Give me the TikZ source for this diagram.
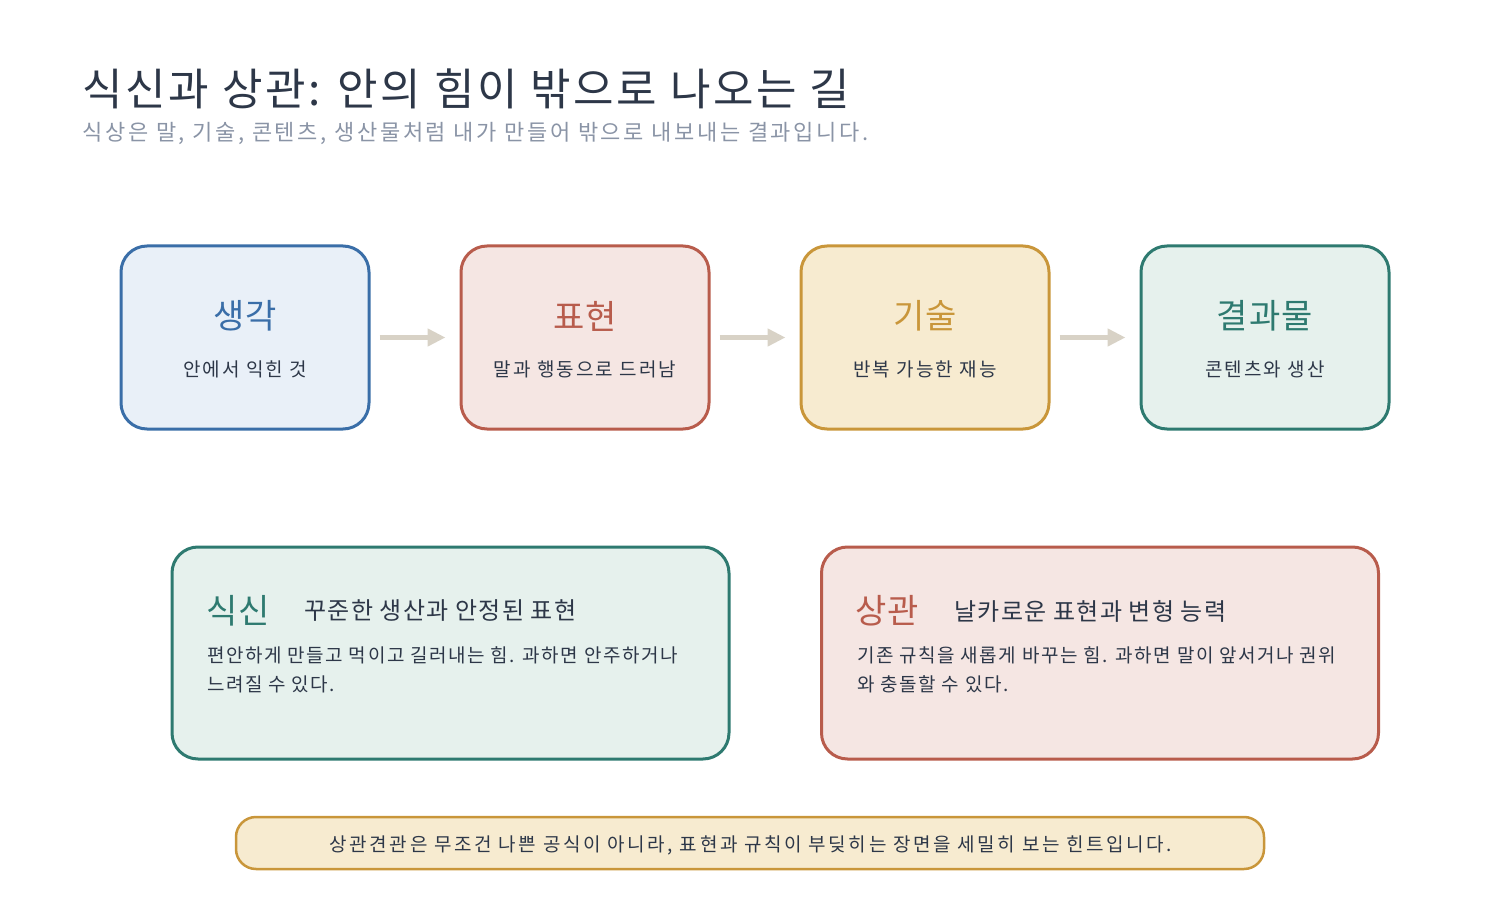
\documentclass[tikz,border=0pt]{standalone}
\usepackage{fontspec}
\setmainfont{Noto Sans CJK KR}
\usetikzlibrary{arrows.meta}
\definecolor{ink}{HTML}{2D3748}
\definecolor{subgray}{HTML}{8A94A6}
\definecolor{cblue}{HTML}{3A6EA8}\definecolor{fblue}{HTML}{E9F0F8}
\definecolor{cred}{HTML}{B85C4C}\definecolor{fred}{HTML}{F5E6E3}
\definecolor{cgold}{HTML}{C9963A}\definecolor{fgold}{HTML}{F7EBD0}
\definecolor{cteal}{HTML}{2E7A70}\definecolor{fteal}{HTML}{E6F1ED}
\definecolor{arrowgray}{HTML}{D8D2C6}
\newcommand{\ls}[1]{\addfontfeatures{LetterSpace=#1}}
\tikzset{
  card/.style={draw=#1, line width=3pt, rounded corners=26pt, minimum width=248pt, minimum height=183pt, inner sep=0pt},
  wide/.style={draw=#1, line width=3pt, rounded corners=26pt, minimum width=557pt, minimum height=212pt, inner sep=0pt},
  flow/.style={draw=arrowgray, line width=5pt, -{Triangle[length=18pt,width=17pt]}},
  head/.style={font=\fontsize{34}{40}\selectfont\ls{4}, anchor=center},
  sub/.style={font=\fontsize{19}{24}\selectfont\ls{11}, text=ink, anchor=center},
  body/.style={anchor=north west, text=ink, font=\fontsize{19}{29}\selectfont\ls{8.2}, align=left, inner sep=0pt},
  lead/.style={anchor=west, text=ink, font=\fontsize{24}{28}\selectfont\ls{5.3}},
  key/.style={anchor=west, font=\fontsize{34}{40}\selectfont\ls{3}},
}
\begin{document}
\begin{tikzpicture}[x=1pt,y=-1pt]
\useasboundingbox (0,0) rectangle (1500,920);
\node[anchor=west, text=ink, font=\fontsize{44}{52}\selectfont\ls{6.3}] (title) at (79,89) {식신과 상관: 안의 힘이 밖으로 나오는 길};
\node[anchor=west, text=subgray, font=\fontsize{22}{26}\selectfont\ls{12}] (subtitle) at (79,133) {식상은 말, 기술, 콘텐츠, 생산물처럼 내가 만들어 밖으로 내보내는 결과입니다.};
% top cards
\node[card=cblue, fill=fblue] (c1) at (245,337.5) {};
\node[card=cred, fill=fred] (c2) at (585,337.5) {};
\node[card=cgold, fill=fgold] (c3) at (925,337.5) {};
\node[card=cteal, fill=fteal] (c4) at (1265,337.5) {};
\node[head, text=cblue] (h1) at (245,316) {생각};
\node[sub] (s1) at (245,369) {안에서 익힌 것};
\node[head, text=cred] (h2) at (585,316) {표현};
\node[sub] (s2) at (585,369) {말과 행동으로 드러남};
\node[head, text=cgold] (h3) at (925,316) {기술};
\node[sub] (s3) at (925,369) {반복 가능한 재능};
\node[head, text=cteal] (h4) at (1265,316) {결과물};
\node[sub] (s4) at (1265,369) {콘텐츠와 생산};
\draw[flow] ([xshift=9pt]c1.east) -- ([xshift=-14pt]c2.west);
\draw[flow] ([xshift=9pt]c2.east) -- ([xshift=-14pt]c3.west);
\draw[flow] ([xshift=9pt]c3.east) -- ([xshift=-14pt]c4.west);
% lower cards
\node[wide=cteal, fill=fteal] (w1) at (450.5,653) {};
\node[wide=cred, fill=fred] (w2) at (1100,653) {};
\node[key, text=cteal] (k1) at (203,611) {식신};
\node[lead] (t1) at (301,611) {꾸준한 생산과 안정된 표현};
\node[body] (b1) at (207,646) {편안하게 만들고 먹이고 길러내는 힘. 과하면 안주하거나\\느려질 수 있다.};
\node[key, text=cred] (k2) at (852,611) {상관};
\node[lead] (t2) at (951,611) {날카로운 표현과 변형 능력};
\node[body] (b2) at (857,646) {기존 규칙을 새롭게 바꾸는 힘. 과하면 말이 앞서거나 권위\\와 충돌할 수 있다.};
% footer
\node[draw=cgold, fill=fgold, line width=2.5pt, rounded corners=20pt, minimum width=1028pt, minimum height=52pt] (foot) at (750,843) {};
\node[text=ink, font=\fontsize{19}{24}\selectfont\ls{13.6}] (ft) at (751,845) {상관견관은 무조건 나쁜 공식이 아니라, 표현과 규칙이 부딪히는 장면을 세밀히 보는 힌트입니다.};
\end{tikzpicture}
\end{document}
